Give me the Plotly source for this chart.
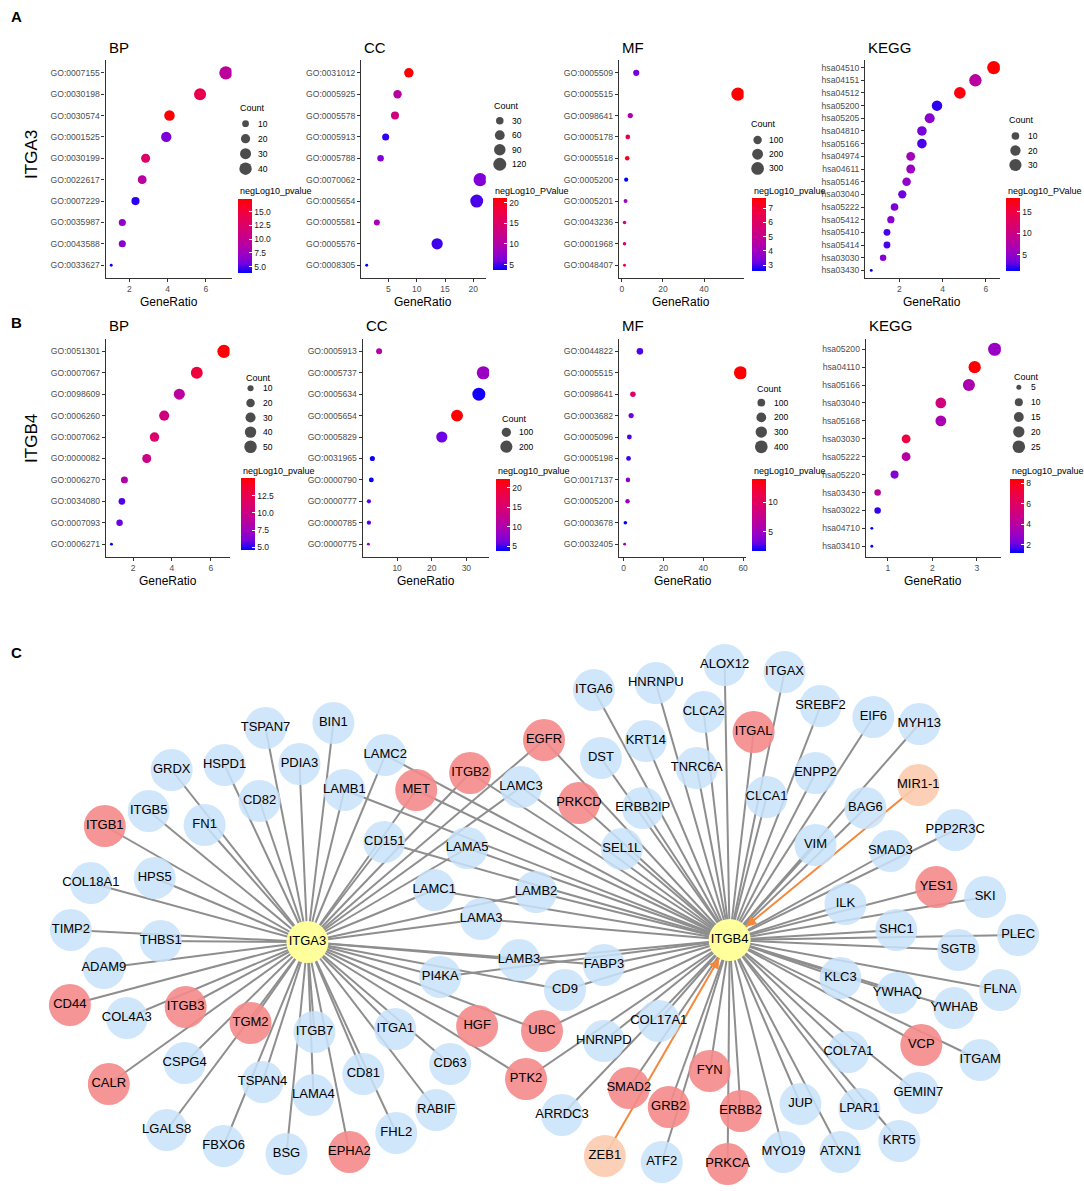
import math
import plotly.graph_objects as go

W, H = 1084, 1191
FONT = "Arial, 'Liberation Sans', Helvetica, sans-serif"

# ================= DATA =================
# ---- Panel A : ITGA3 ----
a_bp_terms = ["GO:0007155", "GO:0030198", "GO:0030574", "GO:0001525", "GO:0030199",
              "GO:0022617", "GO:0007229", "GO:0035987", "GO:0043588", "GO:0033627"]
a_bp_ratio = [7.05, 5.70, 4.10, 3.93, 2.85, 2.67, 2.32, 1.63, 1.63, 1.05]
a_bp_count = [46, 37, 27, 26, 19, 18, 15, 11, 11, 4]
a_bp_pval = [9.5, 14.0, 17.3, 6.0, 12.5, 9.0, 4.5, 7.0, 6.5, 3.85]

a_cc_terms = ["GO:0031012", "GO:0005925", "GO:0005578", "GO:0005913", "GO:0005788",
              "GO:0070062", "GO:0005654", "GO:0005581", "GO:0005576", "GO:0008305"]
a_cc_ratio = [8.6, 6.6, 6.15, 4.5, 3.6, 21.2, 20.6, 2.95, 13.6, 1.15]
a_cc_count = [55, 40, 36, 26, 21, 126, 120, 17, 85, 6]
a_cc_pval = [21.1, 10.5, 13.0, 4.5, 6.5, 6.5, 5.0, 9.0, 4.8, 3.6]

a_mf_terms = ["GO:0005509", "GO:0005515", "GO:0098641", "GO:0005178", "GO:0005518",
              "GO:0005200", "GO:0005201", "GO:0043236", "GO:0001968", "GO:0048407"]
a_mf_ratio = [7.0, 56.5, 4.1, 2.9, 2.6, 2.1, 1.8, 1.3, 1.3, 1.3]
a_mf_count = [40, 330, 24, 17, 15, 12, 10, 8, 8, 7]
a_mf_pval = [3.3, 7.7, 4.3, 6.5, 7.3, 2.6, 4.0, 5.5, 5.5, 6.6]

a_kegg_terms = ["hsa04510", "hsa04151", "hsa04512", "hsa05200", "hsa05205", "hsa04810",
                "hsa05166", "hsa04974", "hsa04611", "hsa05146", "hsa03040", "hsa05222",
                "hsa05412", "hsa05410", "hsa05414", "hsa03030", "hsa03430"]
a_kegg_ratio = [6.37, 5.52, 4.80, 3.74, 3.40, 3.04, 3.04, 2.52, 2.52, 2.33, 2.13, 1.77,
                1.60, 1.42, 1.42, 1.24, 0.69]
a_kegg_count = [36, 31, 27, 21, 19, 17, 17, 14, 14, 13, 12, 10, 9, 8, 8, 7, 3]
a_kegg_pval = [18.1, 8.0, 17.5, 2.0, 4.5, 3.5, 2.5, 6.0, 5.5, 5.0, 3.2, 3.8, 4.2, 2.5,
               2.5, 4.2, 1.16]

# ---- Panel B : ITGB4 ----
b_bp_terms = ["GO:0051301", "GO:0007067", "GO:0098609", "GO:0006260", "GO:0007062",
              "GO:0000082", "GO:0006270", "GO:0034080", "GO:0007093", "GO:0006271"]
b_bp_ratio = [6.68, 5.28, 4.38, 3.60, 3.10, 2.70, 1.55, 1.42, 1.30, 0.88]
b_bp_count = [56, 44, 37, 30, 26, 23, 13, 12, 11, 5]
b_bp_pval = [15.0, 13.2, 8.8, 10.3, 11.2, 9.8, 8.2, 5.5, 5.8, 4.57]

b_cc_terms = ["GO:0005913", "GO:0005737", "GO:0005634", "GO:0005654", "GO:0005829",
              "GO:0031965", "GO:0000790", "GO:0000777", "GO:0000785", "GO:0000775"]
b_cc_ratio = [4.8, 34.9, 33.6, 27.3, 22.9, 2.85, 2.55, 1.85, 1.85, 1.7]
b_cc_count = [30, 245, 235, 190, 160, 20, 18, 13, 13, 9]
b_cc_pval = [10.5, 8.5, 4.2, 22.2, 6.0, 4.0, 3.8, 5.5, 5.5, 7.5]

b_mf_terms = ["GO:0044822", "GO:0005515", "GO:0098641", "GO:0003682", "GO:0005096",
              "GO:0005198", "GO:0017137", "GO:0005200", "GO:0003678", "GO:0032405"]
b_mf_ratio = [8.2, 58.7, 4.7, 3.8, 2.9, 2.5, 2.2, 2.0, 0.9, 0.55]
b_mf_count = [60, 440, 33, 27, 21, 19, 16, 15, 7, 5]
b_mf_pval = [2.8, 14.0, 9.5, 3.3, 2.8, 2.5, 4.2, 4.6, 1.7, 5.0]

b_kegg_terms = ["hsa05200", "hsa04110", "hsa05166", "hsa03040", "hsa05168", "hsa03030",
                "hsa05222", "hsa05220", "hsa03430", "hsa03022", "hsa04710", "hsa03410"]
b_kegg_ratio = [3.40, 2.95, 2.82, 2.19, 2.19, 1.41, 1.41, 1.15, 0.77, 0.77, 0.64, 0.64]
b_kegg_count = [28, 24, 23, 18, 18, 12, 12, 10, 7, 7, 4, 4]
b_kegg_pval = [3.0, 8.4, 3.6, 5.2, 3.5, 7.0, 4.0, 2.5, 4.2, 1.6, 1.18, 1.3]

# tick / legend break labels
a_bp_xticks, a_cc_xticks, a_mf_xticks, a_kegg_xticks = [2, 4, 6], [5, 10, 15, 20], [0, 20, 40, 60], [2, 4, 6]
b_bp_xticks, b_cc_xticks, b_mf_xticks, b_kegg_xticks = [2, 4, 6], [10, 20, 30], [0, 20, 40, 60], [1, 2, 3]
a_bp_cbticks, a_cc_cbticks, a_mf_cbticks, a_kegg_cbticks = [5, 7.5, 10, 12.5, 15], [5, 10, 15, 20], [3, 4, 5, 6, 7], [5, 10, 15]
b_bp_cbticks, b_cc_cbticks, b_mf_cbticks, b_kegg_cbticks = [5, 7.5, 10, 12.5], [5, 10, 15, 20], [5, 10], [2, 4, 6, 8]
a_bp_breaks, a_cc_breaks, a_mf_breaks, a_kegg_breaks = [10, 20, 30, 40], [30, 60, 90, 120], [100, 200, 300], [10, 20, 30]
b_bp_breaks, b_cc_breaks, b_mf_breaks, b_kegg_breaks = [10, 20, 30, 40, 50], [100, 200], [100, 200, 300, 400], [5, 10, 15, 20, 25]

# ---- Panel C : network ----
net_names = ["ITGA3", "ITGB4",
             "TSPAN7", "BIN1", "GRDX", "HSPD1", "PDIA3", "LAMC2", "CD82", "LAMB1", "MET", "ITGB2",
             "EGFR", "LAMC3", "ITGB1", "ITGB5", "FN1", "CD151", "LAMA5", "COL18A1", "HPS5", "LAMC1",
             "LAMB2", "TIMP2", "THBS1", "ADAM9", "LAMA3", "LAMB3", "PI4KA", "CD44", "COL4A3", "ITGB3",
             "TGM2", "ITGB7", "ITGA1", "HGF", "CD63", "CD81", "CSPG4", "TSPAN4", "LAMA4", "CALR",
             "RABIF", "FHL2", "LGALS8", "FBXO6", "BSG", "EPHA2", "UBC", "PTK2", "FABP3", "CD9",
             "ITGA6", "HNRNPU", "ALOX12", "ITGAX", "CLCA2", "KRT14", "SREBF2", "EIF6", "MYH13",
             "ITGAL", "DST", "TNRC6A", "ENPP2", "CLCA1", "MIR1-1", "PRKCD", "ERBB2IP", "BAG6",
             "SEL1L", "VIM", "SMAD3", "PPP2R3C", "YES1", "SKI", "ILK", "SHC1", "PLEC", "SGTB",
             "KLC3", "YWHAQ", "FLNA", "YWHAB", "COL17A1", "HNRNPD", "VCP", "ITGAM", "COL7A1",
             "FYN", "SMAD2", "GRB2", "ERBB2", "GEMIN7", "JUP", "LPAR1", "ARRDC3", "MYO19", "ATXN1",
             "KRT5", "ZEB1", "ATF2", "PRKCA"]
net_x = [308, 731,
         266, 334, 172, 225, 300, 386, 260, 345, 417, 471,
         545, 522, 105, 149, 205, 385, 468, 91, 155, 435,
         537, 71, 161, 104, 482, 520, 441, 70, 127, 186,
         251, 315, 396, 478, 451, 364, 185, 263, 314, 109,
         437, 397, 167, 224, 287, 350, 543, 527, 605, 566,
         595, 657, 726, 786, 705, 647, 822, 875, 921,
         755, 602, 698, 817, 768, 920, 580, 644, 867,
         623, 817, 892, 957, 938, 987, 847, 898, 1020, 960,
         842, 899, 1002, 956, 660, 605, 923, 982, 850,
         711, 630, 670, 742, 920, 802, 861, 563, 785, 842,
         901, 606, 663, 729]
net_y = [942, 940,
         728, 723, 770, 765, 764, 755, 801, 790, 790, 773,
         740, 787, 826, 811, 825, 842, 848, 883, 878, 890,
         892, 930, 941, 968, 919, 960, 977, 1005, 1018, 1007,
         1023, 1032, 1029, 1026, 1064, 1074, 1063, 1082, 1095, 1084,
         1110, 1133, 1130, 1146, 1154, 1152, 1031, 1079, 965, 990,
         690, 683, 665, 672, 712, 741, 706, 717, 724,
         732, 758, 768, 773, 797, 785, 803, 808, 808,
         849, 845, 851, 830, 887, 897, 904, 930, 935, 950,
         978, 993, 990, 1008, 1021, 1041, 1045, 1060, 1052,
         1071, 1088, 1107, 1111, 1093, 1104, 1109, 1115, 1152, 1152,
         1141, 1156, 1162, 1164]
net_red = ["ITGB1", "MET", "ITGB2", "EGFR", "PRKCD", "ITGAL", "CD44", "ITGB3", "TGM2", "CALR",
           "HGF", "UBC", "PTK2", "EPHA2", "YES1", "VCP", "FYN", "SMAD2", "GRB2", "ERBB2", "PRKCA"]
net_mirna = ["MIR1-1", "ZEB1"]
net_hubs = ["ITGA3", "ITGB4"]
itga3_links = ["TSPAN7", "BIN1", "GRDX", "HSPD1", "PDIA3", "LAMC2", "CD82", "LAMB1", "MET", "ITGB2",
               "EGFR", "LAMC3", "ITGB1", "ITGB5", "FN1", "CD151", "LAMA5", "COL18A1", "HPS5", "LAMC1",
               "LAMB2", "TIMP2", "THBS1", "ADAM9", "LAMA3", "LAMB3", "PI4KA", "CD44", "COL4A3", "ITGB3",
               "TGM2", "ITGB7", "ITGA1", "HGF", "CD63", "CD81", "CSPG4", "TSPAN4", "LAMA4", "CALR",
               "RABIF", "FHL2", "LGALS8", "FBXO6", "BSG", "EPHA2", "UBC", "PTK2", "FABP3", "CD9"]
itgb4_links = ["LAMC2", "LAMB1", "MET", "ITGB2", "EGFR", "LAMC3", "CD151", "LAMA5", "LAMC1", "LAMB2",
               "LAMA3", "LAMB3", "PI4KA", "UBC", "PTK2", "FABP3", "CD9",
               "ITGA6", "HNRNPU", "ALOX12", "ITGAX", "CLCA2", "KRT14", "SREBF2", "EIF6", "MYH13",
               "ITGAL", "DST", "TNRC6A", "ENPP2", "CLCA1", "PRKCD", "ERBB2IP", "BAG6",
               "SEL1L", "VIM", "SMAD3", "PPP2R3C", "YES1", "SKI", "ILK", "SHC1", "PLEC", "SGTB",
               "KLC3", "YWHAQ", "FLNA", "YWHAB", "COL17A1", "HNRNPD", "VCP", "ITGAM", "COL7A1",
               "FYN", "SMAD2", "GRB2", "ERBB2", "GEMIN7", "JUP", "LPAR1", "ARRDC3", "MYO19", "ATXN1",
               "KRT5", "ATF2", "PRKCA"]
mirna_links = [("MIR1-1", "ITGB4"), ("ZEB1", "ITGB4")]

# ================= LAYOUT CONFIG (positions in page pixels) =================
panels = [
    dict(terms=a_bp_terms, ratio=a_bp_ratio, count=a_bp_count, pval=a_bp_pval, title="BP",
         xt=a_bp_xticks, cbt=a_bp_cbticks, fmt="{:.1f}", brk=a_bp_breaks, cbtitle="negLog10_pvalue",
         box=(105.7, 232, 60, 278), ct=(238, 108), dx=246, lx=256, ly0=123.7, lstep=15.0,
         cb=(238, 199, 273), cbty=191),
    dict(terms=a_cc_terms, ratio=a_cc_ratio, count=a_cc_count, pval=a_cc_pval, title="CC",
         xt=a_cc_xticks, cbt=a_cc_cbticks, fmt="{:g}", brk=a_cc_breaks, cbtitle="negLog10_PValue",
         box=(361.7, 486.7, 60, 278), ct=(492.7, 105.7), dx=500.7, lx=510.7, ly0=120.7, lstep=14.5,
         cb=(494, 198.3, 270.7), cbty=190.7),
    dict(terms=a_mf_terms, ratio=a_mf_ratio, count=a_mf_count, pval=a_mf_pval, title="MF",
         xt=a_mf_xticks, cbt=a_mf_cbticks, fmt="{:g}", brk=a_mf_breaks, cbtitle="negLog10_pvalue",
         box=(620, 745, 60, 278), ct=(750.7, 124), dx=759, lx=768.3, ly0=140, lstep=14.2,
         cb=(753.3, 198, 271), cbty=191),
    dict(terms=a_kegg_terms, ratio=a_kegg_ratio, count=a_kegg_count, pval=a_kegg_pval, title="KEGG",
         xt=a_kegg_xticks, cbt=a_kegg_cbticks, fmt="{:g}", brk=a_kegg_breaks, cbtitle="negLog10_PValue",
         box=(866.7, 1001.7, 60, 278), ct=(1009.3, 120), dx=1017.3, lx=1028.3, ly0=136, lstep=14.5,
         cb=(1007.7, 198.3, 271), cbty=190.7),
    dict(terms=b_bp_terms, ratio=b_bp_ratio, count=b_bp_count, pval=b_bp_pval, title="BP",
         xt=b_bp_xticks, cbt=b_bp_cbticks, fmt="{:.1f}", brk=b_bp_breaks, cbtitle="negLog10_pvalue",
         box=(106, 230, 338.5, 557), ct=(244, 377.7), dx=251, lx=261.7, ly0=388.3, lstep=14.6,
         cb=(241.7, 478.3, 550.7), cbty=471),
    dict(terms=b_cc_terms, ratio=b_cc_ratio, count=b_cc_count, pval=b_cc_pval, title="CC",
         xt=b_cc_xticks, cbt=b_cc_cbticks, fmt="{:g}", brk=b_cc_breaks, cbtitle="negLog10_pvalue",
         box=(363.3, 490, 338.5, 557), ct=(500.7, 418.7), dx=507.3, lx=518.3, ly0=432.3, lstep=14.4,
         cb=(497.3, 479, 551), cbty=471),
    dict(terms=b_mf_terms, ratio=b_mf_ratio, count=b_mf_count, pval=b_mf_pval, title="MF",
         xt=b_mf_xticks, cbt=b_mf_cbticks, fmt="{:g}", brk=b_mf_breaks, cbtitle="negLog10_pvalue",
         box=(620, 747.7, 338.5, 557), ct=(756, 389.3), dx=762.7, lx=773.3, ly0=402.7, lstep=14.7,
         cb=(753.3, 479, 551), cbty=471),
    dict(terms=b_kegg_terms, ratio=b_kegg_ratio, count=b_kegg_count, pval=b_kegg_pval, title="KEGG",
         xt=b_kegg_xticks, cbt=b_kegg_cbticks, fmt="{:g}", brk=b_kegg_breaks, cbtitle="negLog10_pvalue",
         box=(867.3, 1002.7, 338.5, 557), ct=(1014, 377.3), dx=1020.7, lx=1031, ly0=387.3, lstep=14.85,
         cb=(1012.3, 479, 552.7), cbty=471),
]

# ggplot-like blue -> red gradient (Lab interpolation)
CS = [[0, '#0000FF'], [0.125, '#7300E0'], [0.25, '#9A00C3'], [0.375, '#B500A5'], [0.5, '#C90088'],
      [0.625, '#DA006C'], [0.75, '#E80050'], [0.875, '#F40031'], [1, '#FF0000']]
DMIN, DMAX = 2.9, 13.2
AXC = '#333333'
TICKC = '#4D4D4D'


def dot_size(c, lo, hi):
    t = (c - lo) / (hi - lo) if hi > lo else 0.0
    t = min(max(t, 0.0), 1.0)
    return DMIN + (DMAX - DMIN) * math.sqrt(t)


fig = go.Figure()
layout = dict(width=W, height=H, margin=dict(l=0, r=0, t=0, b=0, pad=0),
              paper_bgcolor='white', plot_bgcolor='rgba(0,0,0,0)', showlegend=False,
              font=dict(family=FONT, color='#000'))
annotations = []


def ann(text, x, y, size=9.0, color='#000', xanchor='left', yanchor='middle', **kw):
    annotations.append(dict(text=text, x=x, y=y, xref='x9', yref='y9', showarrow=False,
                            font=dict(size=size, color=color, family=FONT),
                            xanchor=xanchor, yanchor=yanchor, **kw))


for i, p in enumerate(panels, start=1):
    xa = 'x' if i == 1 else f'x{i}'
    ya = 'y' if i == 1 else f'y{i}'
    xk = 'xaxis' if i == 1 else f'xaxis{i}'
    yk = 'yaxis' if i == 1 else f'yaxis{i}'
    x0, x1, y0, y1 = p['box']
    lo, hi = min(p['count']), max(p['count'])
    sizes = [dot_size(c, lo, hi) for c in p['count']]
    cbx, cby0, cby1 = p['cb']
    fig.add_trace(go.Scatter(
        x=p['ratio'], y=p['terms'], mode='markers', xaxis=xa, yaxis=ya, hoverinfo='skip',
        marker=dict(size=sizes, color=p['pval'], colorscale=CS, cmin=min(p['pval']),
                    cmax=max(p['pval']), line=dict(width=0), opacity=1, showscale=True,
                    colorbar=dict(x=cbx / W, xanchor='left', y=1 - cby0 / H, yanchor='top',
                                  len=cby1 - cby0, lenmode='pixels', thickness=14,
                                  thicknessmode='pixels', xpad=0, ypad=0, outlinewidth=0,
                                  tickvals=p['cbt'], ticktext=[p['fmt'].format(v) for v in p['cbt']],
                                  ticks='inside', ticklen=3, tickcolor='white', tickwidth=1,
                                  tickfont=dict(size=8.5, color='#1a1a1a', family=FONT)))))
    rmin, rmax = min(p['ratio']), max(p['ratio'])
    pad = 0.05 * (rmax - rmin)
    layout[xk] = dict(domain=[x0 / W, x1 / W], anchor=ya, range=[rmin - pad, rmax + pad],
                      tickvals=p['xt'], showline=True, linecolor=AXC, linewidth=1.1,
                      ticks='outside', ticklen=3, tickwidth=1, tickcolor=AXC,
                      tickfont=dict(size=8.5, color=TICKC, family=FONT),
                      showgrid=False, zeroline=False, fixedrange=True)
    n = len(p['terms'])
    layout[yk] = dict(domain=[1 - y1 / H, 1 - y0 / H], anchor=xa, type='category',
                      categoryorder='array', categoryarray=list(reversed(p['terms'])),
                      range=[-0.6, n - 0.4], showline=True, linecolor=AXC, linewidth=1.1,
                      ticks='outside', ticklen=3, tickwidth=1, tickcolor=AXC,
                      tickfont=dict(size=8.6, color=TICKC, family=FONT),
                      showgrid=False, zeroline=False, fixedrange=True)
    # titles
    ann(p['title'], x0 + 1, y0 - 13, size=15)
    ann("GeneRatio", (x0 + x1) / 2, y1 + 15, size=12, xanchor='center', yanchor='top')
    # size legend
    ann("Count", p['ct'][0], p['ct'][1], size=9)
    ly = [p['ly0'] + k * p['lstep'] for k in range(len(p['brk']))]
    fig.add_trace(go.Scatter(x=[p['dx']] * len(ly), y=ly, mode='markers', xaxis='x9', yaxis='y9',
                             hoverinfo='skip',
                             marker=dict(size=[dot_size(b, lo, hi) for b in p['brk']],
                                         color='black', line=dict(width=0))))
    for b, yy in zip(p['brk'], ly):
        ann(str(b), p['lx'], yy, size=8.5)
    ann(p['cbtitle'], cbx, p['cbty'], size=9)

# panel letters and row labels
ann("<b>A</b>", 9, 16, size=15)
ann("<b>B</b>", 9, 322, size=15)
ann("<b>C</b>", 9, 652, size=15)
ann("ITGA3", 31, 154, size=17, xanchor='center', textangle=-90)
ann("ITGB4", 31, 438, size=17, xanchor='center', textangle=-90)

# ================= NETWORK =================
idx = {nm: k for k, nm in enumerate(net_names)}
ex, ey = [], []
for hub, links in (("ITGA3", itga3_links), ("ITGB4", itgb4_links)):
    for nb in links:
        ex += [net_x[idx[hub]], net_x[idx[nb]], None]
        ey += [net_y[idx[hub]], net_y[idx[nb]], None]
fig.add_trace(go.Scatter(x=ex, y=ey, mode='lines', xaxis='x9', yaxis='y9', hoverinfo='skip',
                         line=dict(color='#8E8E8E', width=2)))
ox, oy = [], []
ORANGE = '#F5873A'
for src, dst in mirna_links:
    ox += [net_x[idx[src]], net_x[idx[dst]], None]
    oy += [net_y[idx[src]], net_y[idx[dst]], None]
    sx, sy = net_x[idx[src]], net_y[idx[src]]
    cx, cy = net_x[idx[dst]], net_y[idx[dst]]
    d = math.hypot(sx - cx, sy - cy)
    annotations.append(dict(x=cx, y=cy, xref='x9', yref='y9', axref='x9', ayref='y9',
                            ax=cx + (sx - cx) * 36 / d, ay=cy + (sy - cy) * 36 / d,
                            showarrow=True, arrowhead=2, arrowsize=1.3, arrowwidth=1.6,
                            arrowcolor=ORANGE, standoff=21, text=''))
fig.add_trace(go.Scatter(x=ox, y=oy, mode='lines', xaxis='x9', yaxis='y9', hoverinfo='skip',
                         line=dict(color=ORANGE, width=2)))

colors, opac = [], []
for nm in net_names:
    if nm in net_hubs:
        colors.append('#FFFF9C'); opac.append(1.0)
    elif nm in net_mirna:
        colors.append('#FBCBAE'); opac.append(0.9)
    elif nm in net_red:
        colors.append('#F48A8A'); opac.append(0.9)
    else:
        colors.append('#C8E2FA'); opac.append(0.86)
fig.add_trace(go.Scatter(x=net_x, y=net_y, mode='markers', xaxis='x9', yaxis='y9', hoverinfo='skip',
                         marker=dict(size=42, color=colors, opacity=opac, line=dict(width=0))))
fig.add_trace(go.Scatter(x=net_x, y=net_y, mode='text', text=net_names, xaxis='x9', yaxis='y9',
                         hoverinfo='skip', textposition='middle center',
                         textfont=dict(size=13, color='#000', family=FONT)))

layout['xaxis9'] = dict(domain=[0, 1], anchor='y9', range=[0, W], visible=False, fixedrange=True)
layout['yaxis9'] = dict(domain=[0, 1], anchor='x9', range=[H, 0], visible=False, fixedrange=True)
layout['annotations'] = annotations
fig.update_layout(**layout)

fig.write_html("out.html", config={'displayModeBar': False},
               post_script="document.body.style.margin='0';document.body.style.overflow='hidden';")
